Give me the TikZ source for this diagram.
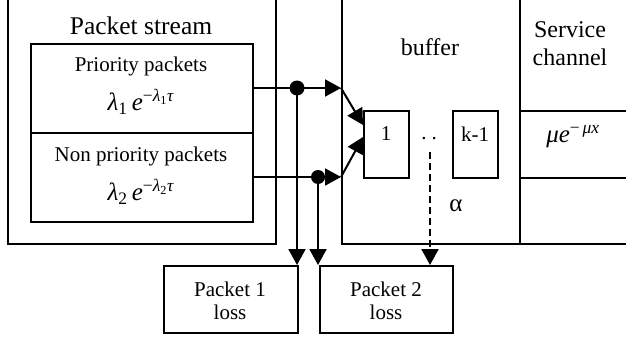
\documentclass[tikz,border=0pt]{standalone}
\usepackage{fontspec}
\setmainfont{Liberation Serif}
\usetikzlibrary{arrows.meta}
\newcommand{\gl}{\textit{λ}}
\begin{document}
\begin{tikzpicture}[x=1pt,y=-1pt,
  box/.style={draw,line width=2pt,inner sep=0pt,anchor=north west},
  arr/.style={line width=2pt,-{Triangle[length=16pt,width=17pt]}},
  big/.style={font=\fontsize{24}{28}\selectfont,align=center,inner sep=0pt},
  mid/.style={font=\fontsize{21}{23}\selectfont,align=center,inner sep=0pt},
  frm/.style={font=\fontsize{25}{28}\selectfont,inner sep=0pt},
  dot/.style={circle,fill,inner sep=0pt,minimum size=15pt}]
\clip (0,0) rectangle (626,337);
% packet stream
\node[box,minimum width=268pt,minimum height=247pt] (stream) at (7,-4) {};
\node[big,font=\fontsize{25.5}{28}\selectfont] (streamt) at (141,26) {Packet stream};
\node[box,minimum width=222pt,minimum height=89pt] (prio) at (30,43) {};
\node[box,minimum width=222pt,minimum height=89pt] (nprio) at (30,132) {};
\node[mid] (priot) at (141,66) {Priority packets};
\node[frm] (priof) at (141,102) {\gl\textsubscript{1}\,\textit{e}\textsuperscript{−\gl\textsubscript{1}\textit{τ}}};
\node[mid] (npriot) at (141,156) {Non priority packets};
\node[frm] (npriof) at (141,192) {\gl\textsubscript{2}\,\textit{e}\textsuperscript{−\gl\textsubscript{2}\textit{τ}}};
% buffer and service channel
\node[box,minimum width=178pt,minimum height=247pt] (buf) at (341,-4) {};
\node[big] (buft) at (430,47) {buffer};
\node[box,minimum width=120pt,minimum height=247pt] (serv) at (519,-4) {};
\node[big] (servt) at (570,44) {Service\\channel};
\node[box,minimum width=120pt,minimum height=67pt] (mu) at (519,110) {};
\node[frm] (muf) at (573,137) {\textit{μe}\textsuperscript{−\,\textit{μx}}};
\node[box,minimum width=45pt,minimum height=67pt] (q1) at (363,110) {};
\node[box,minimum width=45pt,minimum height=67pt] (qk) at (452,110) {};
\node[mid] (q1t) at (386,134) {1};
\node[mid] (qkt) at (475,134) {k-1};
\node[mid] (dots) at (429,139) {.\hspace{5pt}.};
\node[frm] (alpha) at (456,206) {α};
% loss boxes
\node[box,minimum width=134pt,minimum height=67pt] (loss1) at (163,265) {};
\node[mid] (loss1t) at (230,301) {Packet 1\\loss};
\node[box,minimum width=133pt,minimum height=67pt] (loss2) at (319,265) {};
\node[mid] (loss2t) at (386,301) {Packet 2\\loss};
% connectors
\coordinate (d1) at (297,88);
\coordinate (d2) at (318,177);
\coordinate (b1) at (341,88);
\coordinate (b2) at (341,177);
\coordinate (e1) at (363,125);
\coordinate (e2) at (363,137);
\coordinate (dd) at (430,152);
\draw[arr] (prio.east |- d1) -- (b1);
\draw[arr] (nprio.east |- d2) -- (b2);
\draw[arr] (b1) -- (e1);
\draw[arr] (b2) -- (e2);
\draw[arr] (d1) -- (d1 |- loss1.north);
\draw[arr] (d2) -- (d2 |- loss2.north);
\draw[arr,dash pattern=on 7pt off 4pt] (dd) -- (dd |- loss2.north);
\node[dot] (dot1) at (d1) {};
\node[dot,minimum size=14pt] (dot2) at (d2) {};
\end{tikzpicture}
\end{document}
